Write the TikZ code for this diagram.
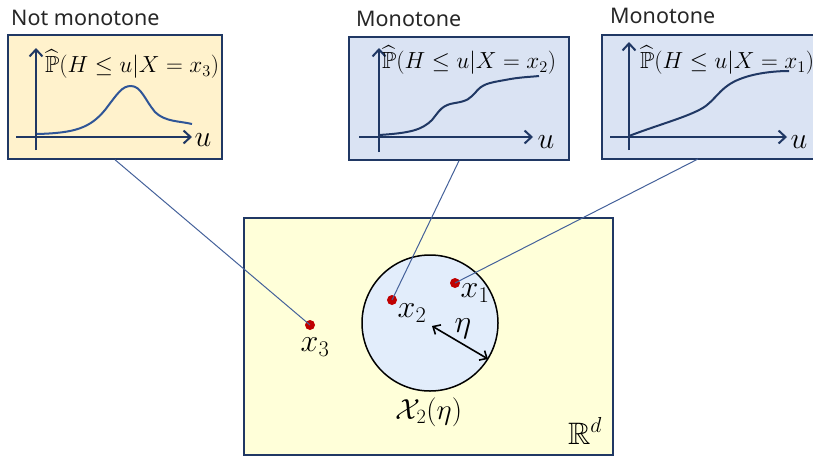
\RequirePackage{fix-cm}
\documentclass[tikz,border=0pt]{standalone}
\usepackage{amsmath,amssymb}
\usepackage{fontspec}
\newfontfamily\titlefont{Noto Sans}
\usetikzlibrary{arrows.meta}
\definecolor{navy}{HTML}{203864}
\definecolor{midblue}{HTML}{2F5597}
\definecolor{peach}{HTML}{FFF2CC}
\definecolor{lblue}{HTML}{DAE3F3}
\definecolor{lyellow}{HTML}{FFFFD9}
\definecolor{cblue}{HTML}{E2EDFB}
\definecolor{dotred}{HTML}{C00000}
\definecolor{conn}{HTML}{44619A}
\tikzset{
  panel/.style={draw=navy, line width=1.5pt, rectangle, inner sep=0pt},
  axis/.style={draw=navy, line width=2.2pt, -{Straight Barb[length=7pt,width=13pt,line width=2pt]}},
  curve/.style={draw=navy, line width=2pt},
  title/.style={font=\titlefont\fontsize{21.5}{25}\selectfont, text=black!85, inner sep=0pt, anchor=west},
  plabel/.style={font=\fontsize{23.3}{27}\selectfont, inner sep=0pt, anchor=west},
  ulabel/.style={font=\fontsize{30}{34}\selectfont, inner sep=0pt},
  pt/.style={circle, fill=dotred, inner sep=0pt, minimum size=10pt},
  mlabel/.style={font=\fontsize{32}{36}\selectfont, inner sep=0pt},
  connector/.style={draw=conn, line width=1pt},
}
\begin{document}
\begin{tikzpicture}[x=1pt,y=-1pt]
\useasboundingbox (0,0) rectangle (813,456);
% panels
\node[panel, fill=peach, minimum width=214pt, minimum height=124pt] (box1) at (115,97) {};
\node[panel, fill=lblue, minimum width=220pt, minimum height=123pt] (box2) at (459,98.5) {};
\node[panel, fill=lblue, minimum width=228pt, minimum height=124pt] (box3) at (716,97) {};
\node[panel, fill=lyellow, minimum width=369pt, minimum height=237pt] (space) at (428.5,336.5) {};
\node[circle, draw=black, line width=1.5pt, fill=cblue, minimum size=136pt, inner sep=0pt] (ball) at (430,323) {};
% titles
\node[title] (t1) at (11,18) {Not monotone};
\node[title] (t2) at (356,19) {Monotone};
\node[title] (t3) at (610,16) {Monotone};
% box1 plot
\draw[axis] (36,150) -- (36,48);
\draw[axis] (16,137) -- (192,137);
\draw[curve, draw=midblue] (37,134) .. controls (75,133) and (90,128) .. (105,110) .. controls (118,93) and (122,86) .. (131,86) .. controls (141,86) and (145,100) .. (155,112) .. controls (165,122) and (180,121) .. (192,124);
\node[plabel] (l1) at (45,64) {$\widehat{\mathbb{P}}(H\le u|X=x_3)$};
\node[ulabel] (u1) at (203,140) {$u$};
% box2 plot
\draw[axis] (379,152) -- (379,48);
\draw[axis] (359,137) -- (533,137);
\draw[curve] (379,135) .. controls (410,133) and (422,130) .. (432,120) .. controls (440,110) and (442,105) .. (455,103) .. controls (468,101) and (470,98) .. (475,93) .. controls (482,84) and (488,83) .. (505,80) .. controls (520,77) and (530,77) .. (539,76);
\node[plabel] (l2) at (382,60) {$\widehat{\mathbb{P}}(H\le u|X=x_2)$};
\node[ulabel] (u2) at (546,142) {$u$};
% box3 plot
\draw[axis] (629,150) -- (629,42);
\draw[axis] (610,137) -- (787,137);
\draw[curve] (629,136) .. controls (660,124) and (695,115) .. (707,105) .. controls (718,96) and (722,86) .. (740,79) .. controls (755,73) and (775,71) .. (789,71);
\node[plabel] (l3) at (640,60) {$\widehat{\mathbb{P}}(H\le u|X=x_1)$};
\node[ulabel] (u3) at (799,142) {$u$};
% points
\node[pt] (p1) at (455,283) {};
\node[pt] (p2) at (392,300) {};
\node[pt] (p3) at (310,325) {};
\node[mlabel] (x1) at (475,293) {$x_1$};
\node[mlabel] (x2) at (412,313) {$x_2$};
\node[mlabel] (x3) at (315,347) {$x_3$};
% connectors
\coordinate (c3) at (698,159);
\draw[connector] (box1.south) -- (p3.center);
\draw[connector] (box2.south) -- (p2.center);
\draw[connector] (c3) -- (p1.center);
% radius
\coordinate (rc) at (432,326);
\coordinate (rb) at (488,359);
\draw[line width=1.6pt, {Straight Barb[length=6pt,width=11pt,line width=1.6pt]}-{Straight Barb[length=6pt,width=11pt,line width=1.6pt]}] (rc) -- (rb);
\node[mlabel] (eta) at (463,329) {$\eta$};
\node[mlabel, font=\fontsize{29}{33}\selectfont] (lab) at (429,412) {$\mathcal{X}_2(\eta)$};
\node[mlabel, font=\fontsize{31}{35}\selectfont] (rd) at (585,431) {$\mathbb{R}^d$};
\end{tikzpicture}
\end{document}
